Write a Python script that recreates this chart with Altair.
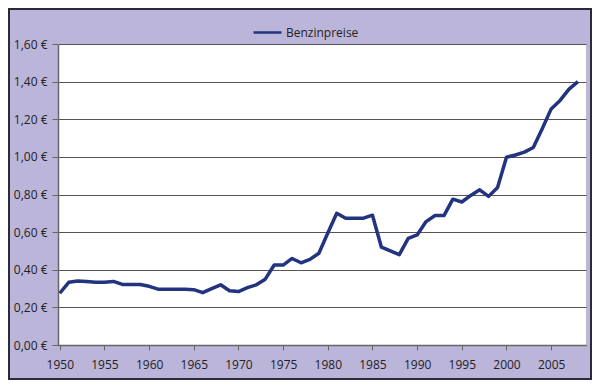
import altair as alt
import pandas as pd

years = list(range(1950, 2009))
prices = [
    0.275, 0.333, 0.340, 0.338, 0.333, 0.333, 0.338, 0.322, 0.322, 0.322,
    0.312, 0.297, 0.296, 0.296, 0.296, 0.294, 0.278, 0.300, 0.320, 0.288,
    0.284, 0.305, 0.320, 0.350, 0.425, 0.425, 0.460, 0.437, 0.455, 0.488,
    0.595, 0.700, 0.674, 0.674, 0.674, 0.690, 0.520, 0.500, 0.480, 0.567,
    0.585, 0.656, 0.688, 0.688, 0.775, 0.760, 0.795, 0.825, 0.790, 0.837,
    0.998, 1.010, 1.025, 1.050, 1.150, 1.255, 1.300, 1.360, 1.400,
]
series_name = "Benzinpreise"
x_ticks = list(range(1950, 2006, 5))
y_ticks = [0.0, 0.2, 0.4, 0.6, 0.8, 1.0, 1.2, 1.4, 1.6]

df = pd.DataFrame({"Jahr": years, "Preis": prices})

W, H = 528, 301
PL, PT, PR, PB = 50, 36, 6, 35
FONT = "Open Sans"

base = alt.Chart(df)

line = base.mark_line(strokeWidth=3.5, strokeJoin="round").encode(
    x=alt.X(
        "Jahr:Q",
        scale=alt.Scale(domain=[1949.8, 2008.9], nice=False, zero=False),
        axis=alt.Axis(
            values=x_ticks, format="d", title=None, grid=False,
            domainColor="#666666", domainWidth=1.5,
            tickColor="#666666", tickSize=5, tickWidth=1,
            labelFont=FONT, labelFontSize=12, labelColor="#222222",
            labelPadding=9, labelFlush=False,
        ),
    ),
    y=alt.Y(
        "Preis:Q",
        scale=alt.Scale(domain=[0, 1.6], nice=False),
        axis=alt.Axis(
            values=y_ticks, title=None, grid=True,
            gridColor="#555555", gridWidth=1,
            domainColor="#666666", domainWidth=1.5,
            tickColor="#666666", tickSize=6, tickWidth=1,
            labelFont=FONT, labelFontSize=12, labelColor="#222222",
            labelPadding=5,
            labelExpr="replace(format(datum.value, '.2f'), '.', ',') + ' €'",
        ),
    ),
    color=alt.Color(
        "serie:N",
        scale=alt.Scale(domain=[series_name], range=["#22347F"]),
        legend=alt.Legend(
            title=None, orient="none", legendX=194, legendY=-27,
            symbolType="stroke", symbolSize=784, symbolStrokeWidth=2.5,
            labelFont=FONT, labelFontSize=12, labelColor="#222222",
            labelOffset=3,
        ),
    ),
).transform_calculate(serie=f"'{series_name}'")

frame = alt.Chart(pd.DataFrame({"a": [0]})).mark_rect(
    fill="transparent", stroke="#2b2b3a", strokeWidth=2
).encode(
    x=alt.value(-PL + 1), x2=alt.value(W + PR - 1),
    y=alt.value(-PT + 1), y2=alt.value(H + PB - 1),
)

chart = alt.layer(line, frame).properties(
    width=W, height=H,
    padding={"left": PL, "top": PT, "right": PR, "bottom": PB},
    autosize=alt.AutoSizeParams(type="none"),
    background="#BCB5DA",
).configure_view(fill="white", stroke=None)

chart.save("out.html", embed_options={"renderer": "svg", "actions": False})
